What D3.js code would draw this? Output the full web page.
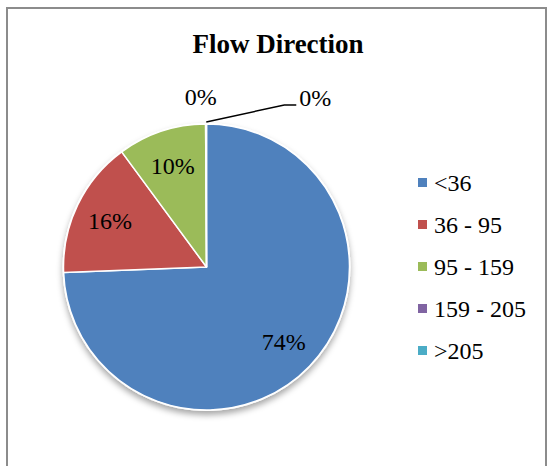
<!DOCTYPE html>
<html>
<head>
<meta charset="utf-8">
<script src="https://cdn.jsdelivr.net/npm/d3@7"></script>
<style>
  html, body { margin: 0; padding: 0; background: #fff; }
  svg { display: block; }
</style>
</head>
<body>
<svg id="chart" width="547" height="466"></svg>
<script>
// Flow direction classes and their share of observations (%)
const categories = ["<36", "36 - 95", "95 - 159", "159 - 205", ">205"];
const shares = [74.4, 15.5, 10.0, 0.05, 0.05];
const colors = ["#4F81BD", "#C0504D", "#9BBB59", "#8064A2", "#4BACC6"];
const title = "Flow Direction";

const width = 547, height = 466;
const cx = 206.5, cy = 267, radius = 143;
const serif = "'Liberation Serif', 'Times New Roman', serif";

const svg = d3.select("#chart");

// soft shadow under the pie
const defs = svg.append("defs");
const shadow = defs.append("filter").attr("id", "pieShadow")
  .attr("x", "-20%").attr("y", "-20%").attr("width", "140%").attr("height", "140%");
shadow.append("feDropShadow")
  .attr("dx", 0).attr("dy", 4).attr("stdDeviation", 3)
  .attr("flood-color", "#000").attr("flood-opacity", 0.35);

// chart frame
svg.append("rect")
  .attr("x", 7).attr("y", 8).attr("width", 539).attr("height", 480)
  .attr("fill", "#fff").attr("stroke", "#8c8c8c").attr("stroke-width", 2);

svg.append("text")
  .attr("x", 278).attr("y", 53)
  .attr("text-anchor", "middle")
  .attr("font-family", serif).attr("font-weight", "bold").attr("font-size", 27)
  .attr("fill", "#000")
  .text(title);

const data = categories.map((c, i) => ({ name: c, value: shares[i], color: colors[i] }));

const pie = d3.pie().value(d => d.value).sort(null);
const arcs = pie(data);
const arc = d3.arc().innerRadius(0).outerRadius(radius);
const labelArc = d3.arc().innerRadius(radius * 0.75).outerRadius(radius * 0.75);

const g = svg.append("g").attr("transform", `translate(${cx},${cy})`);

g.append("circle").attr("r", radius + 1).attr("fill", "#fff").attr("filter", "url(#pieShadow)");

g.selectAll("path.slice")
  .data(arcs)
  .join("path")
  .attr("class", "slice")
  .attr("d", arc)
  .attr("fill", d => d.data.color)
  .attr("stroke", "#fff")
  .attr("stroke-width", 1.5)
  .attr("stroke-linejoin", "round");

const pct = v => Math.round(v) + "%";
const labelFont = 24;

// inside labels for the large slices
g.selectAll("text.inside")
  .data(arcs.filter(d => d.data.value >= 5))
  .join("text")
  .attr("class", "inside")
  .attr("transform", d => `translate(${labelArc.centroid(d)})`)
  .attr("text-anchor", "middle")
  .attr("dy", "0.35em")
  .attr("font-family", serif).attr("font-size", labelFont)
  .attr("fill", "#000")
  .text(d => pct(d.data.value));

// outside labels for the tiny slices near the top
const tiny = arcs.filter(d => d.data.value < 5);
const edgePoint = (d, r) => {
  const a = (d.startAngle + d.endAngle) / 2;
  return [r * Math.sin(a), -r * Math.cos(a)];
};

// first tiny slice: label set just above the rim
{
  const p = edgePoint(tiny[0], radius + 4);
  g.append("text")
    .attr("x", p[0] - 5).attr("y", p[1] - 15)
    .attr("text-anchor", "middle")
    .attr("font-family", serif).attr("font-size", labelFont)
    .text(pct(tiny[0].data.value));
}
// second tiny slice: label pulled to the right with a leader line
{
  const p = edgePoint(tiny[1], radius + 2);
  const elbow = [p[0] + 78, p[1] - 17];
  const end = [elbow[0] + 12, elbow[1]];
  g.append("path")
    .attr("d", d3.line()([p, elbow, end]))
    .attr("fill", "none").attr("stroke", "#000").attr("stroke-width", 1.5);
  g.append("text")
    .attr("x", end[0] + 3).attr("y", end[1] + 1)
    .attr("font-family", serif).attr("font-size", labelFont)
    .text(pct(tiny[1].data.value));
}

// legend
const legend = svg.append("g").attr("transform", "translate(418,178)");
const item = legend.selectAll("g.item")
  .data(data)
  .join("g")
  .attr("class", "item")
  .attr("transform", (d, i) => `translate(0,${i * 42})`);
item.append("rect")
  .attr("width", 9).attr("height", 9)
  .attr("fill", d => d.color);
item.append("text")
  .attr("x", 16).attr("y", 13)
  .attr("font-family", serif).attr("font-size", labelFont)
  .attr("fill", "#000")
  .text(d => d.name);
</script>
</body>
</html>
